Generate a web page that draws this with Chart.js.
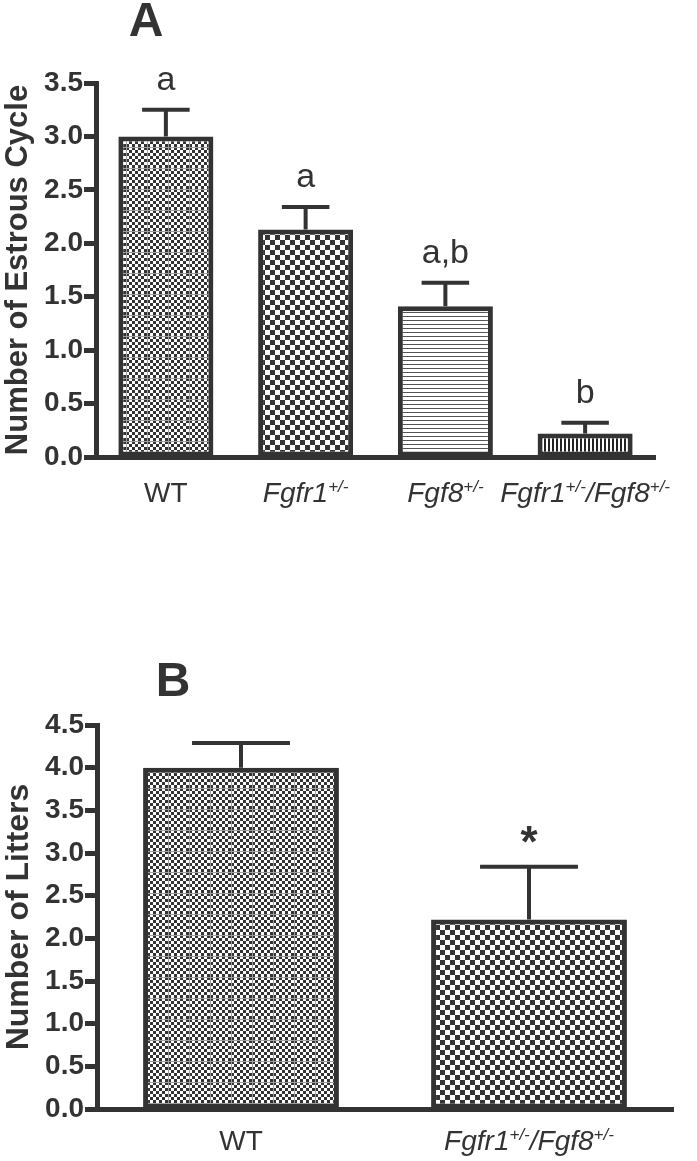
<!DOCTYPE html>
<html>
<head>
<meta charset="utf-8">
<script src="https://cdn.jsdelivr.net/npm/chart.js@4"></script>
<style>
  body { margin: 0; background: #fff; }
  #wrapA { position: absolute; left: 0; top: 0; width: 697px; height: 520px; }
  #wrapB { position: absolute; left: 0; top: 620px; width: 697px; height: 541px; }
</style>
</head>
<body>
<div id="wrapA"><canvas id="chartA"></canvas></div>
<div id="wrapB"><canvas id="chartB"></canvas></div>
<script>
// panel A data
var catsA = ['WT', 'Fgfr1+/-', 'Fgf8+/-', 'Fgfr1+/-/Fgf8+/-'];
var meanA = [3.0, 2.13, 1.41, 0.22];
var semA = [0.25, 0.21, 0.22, 0.10];
var sigA = ['a', 'a', 'a,b', 'b'];
var ticksA = ['0.0', '0.5', '1.0', '1.5', '2.0', '2.5', '3.0', '3.5'];

// panel B data
var catsB = ['WT', 'Fgfr1+/-/Fgf8+/-'];
var meanB = [4.0, 2.22];
var semB = [0.29, 0.62];
var sigB = ['', '*'];
var ticksB = ['0.0', '0.5', '1.0', '1.5', '2.0', '2.5', '3.0', '3.5', '4.0', '4.5'];

var dark = '#333333';
var fontFam = '"Liberation Sans", Arial, sans-serif';

/* fill patterns */
function checker(cell, grayLine) {
    var c = document.createElement('canvas');
    var n = grayLine ? 7 : 2;
    c.width = c.height = cell * n;
    var g = c.getContext('2d');
    g.fillStyle = '#fff';
    g.fillRect(0, 0, c.width, c.height);
    g.fillStyle = dark;
    for (var i = 0; i < n; i++) {
        for (var j = 0; j < n; j++) {
            if ((i + j) % 2 == 0) g.fillRect(i * cell, j * cell, cell, cell);
        }
    }
    if (grayLine) {
        g.fillStyle = '#a0a0a0';
        g.fillRect(0, 0, c.width, 1);
        g.fillRect(0, 0, 1, c.height);
    }
    return g.createPattern(c, 'repeat');
}
function stripes(horizontal, gap, lineW, col) {
    var c = document.createElement('canvas');
    c.width = c.height = gap;
    var g = c.getContext('2d');
    g.fillStyle = '#fff';
    g.fillRect(0, 0, gap, gap);
    g.fillStyle = col;
    if (horizontal) g.fillRect(0, 0, gap, lineW);
    else g.fillRect(0, 0, lineW, gap);
    return g.createPattern(c, 'repeat');
}

var fillA = [checker(3, true), checker(5, false), stripes(true, 4, 1, '#555'), stripes(false, 4, 2, '#222')];
var fillB = [checker(3, true), checker(5, false)];

/* error bars, letters over bars, x labels, panel letter */
var extras = {
    id: 'extras',
    afterDatasetsDraw: function(chart, args, opt) {
        var ctx = chart.ctx;
        var ys = chart.scales.y;
        var xs = chart.scales.x;
        var bars = chart.getDatasetMeta(0).data;
        ctx.save();
        bars.forEach(function(bar, i) {
            var top = ys.getPixelForValue(opt.mean[i] + opt.sem[i]);
            var half = bar.width / 4;
            ctx.strokeStyle = dark;
            ctx.lineWidth = 4;
            ctx.beginPath();
            ctx.moveTo(bar.x, bar.y);
            ctx.lineTo(bar.x, top);
            ctx.moveTo(bar.x - half, top);
            ctx.lineTo(bar.x + half, top);
            ctx.stroke();

            // significance mark
            ctx.fillStyle = dark;
            ctx.textAlign = 'center';
            if (opt.sig[i] == '*') {
                ctx.font = 'bold 44px ' + fontFam;
                ctx.textBaseline = 'alphabetic';
                ctx.fillText('*', bar.x, top - 10);
            } else if (opt.sig[i]) {
                ctx.font = '34px ' + fontFam;
                ctx.textBaseline = 'alphabetic';
                ctx.fillText(opt.sig[i], bar.x, top - 20);
            }

            // x label with italics + superscript
            var parts = opt.cats[i].split(/(\+\/-)/).filter(function(s) { return s; });
            var italic = opt.cats[i] != 'WT';
            var main = (italic ? 'italic ' : '') + '28px ' + fontFam;
            var sup = (italic ? 'italic ' : '') + '17px ' + fontFam;
            var w = 0;
            parts.forEach(function(p) {
                ctx.font = p == '+/-' ? sup : main;
                w += ctx.measureText(p).width;
            });
            var x0 = xs.getPixelForValue(i) - w / 2;
            var yb = chart.chartArea.bottom + opt.labelY;
            ctx.textAlign = 'left';
            parts.forEach(function(p) {
                ctx.font = p == '+/-' ? sup : main;
                ctx.fillText(p, x0, p == '+/-' ? yb - 10 : yb);
                x0 += ctx.measureText(p).width;
            });
        });

        // panel letter
        ctx.font = 'bold 48px ' + fontFam;
        ctx.textAlign = 'center';
        ctx.textBaseline = 'middle';
        ctx.fillText(opt.panel, opt.panelX, opt.panelY);
        ctx.restore();
    }
};

function makeChart(id, cats, mean, fills, ticks, yTitle, yMax, pad, yWidth, ex, titleSize) {
    return new Chart(document.getElementById(id), {
        type: 'bar',
        data: {
            labels: cats,
            datasets: [{
                data: mean,
                backgroundColor: fills,
                borderColor: dark,
                borderWidth: 5,
                borderSkipped: false,
                barPercentage: 0.68,
                categoryPercentage: 1.0
            }]
        },
        options: {
            responsive: true,
            maintainAspectRatio: false,
            animation: false,
            layout: { padding: pad },
            plugins: {
                legend: { display: false },
                tooltip: { enabled: false },
                extras: ex
            },
            scales: {
                x: {
                    grid: { display: false },
                    border: { display: true, color: dark, width: 5 },
                    ticks: { display: false },
                    afterFit: function(s) { s.height = 0; }
                },
                y: {
                    min: 0,
                    max: yMax,
                    afterFit: function(s) { s.width = yWidth; },
                    grid: { drawOnChartArea: false, drawTicks: true, tickLength: 12, tickWidth: 5, tickColor: dark },
                    border: { display: true, color: dark, width: 5 },
                    ticks: {
                        stepSize: 0.5,
                        padding: 1,
                        color: dark,
                        font: { family: fontFam, size: 28, weight: 'bold' },
                        callback: function(v, i) { return ticks[i]; }
                    },
                    title: {
                        display: true,
                        text: yTitle,
                        color: dark,
                        padding: { top: 0, bottom: 0 },
                        font: { family: fontFam, size: titleSize, weight: 'bold' }
                    }
                }
            }
        },
        plugins: [extras]
    });
}

makeChart('chartA', catsA, meanA, fillA, ticksA, 'Number of Estrous Cycle', 3.5,
    { top: 83, bottom: 63, left: 0, right: 42 }, 96,
    { mean: meanA, sem: semA, sig: sigA, cats: catsA, labelY: 45, panel: 'A', panelX: 146, panelY: 23 }, 31);

makeChart('chartB', catsB, meanB, fillB, ticksB, 'Number of Litters', 4.5,
    { top: 105, bottom: 52, left: 0, right: 24 }, 97,
    { mean: meanB, sem: semB, sig: sigB, cats: catsB, labelY: 41, panel: 'B', panelX: 173, panelY: 63 }, 32);
</script>
</body>
</html>
